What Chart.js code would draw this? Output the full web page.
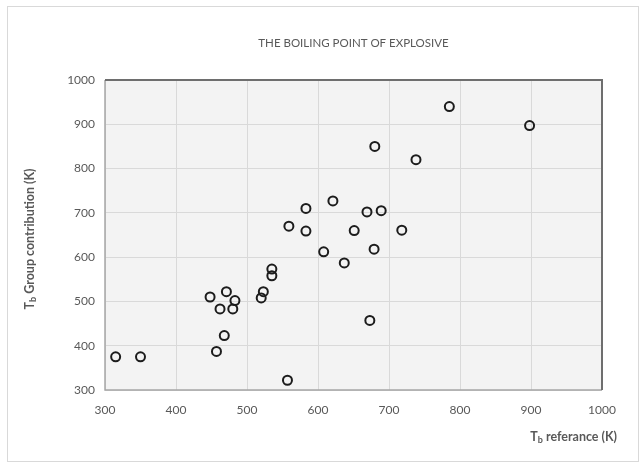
<!DOCTYPE html>
<html>
<head>
<meta charset="utf-8">
<script src="https://cdn.jsdelivr.net/npm/chart.js@4"></script>
<style>
  html, body { margin: 0; padding: 0; background: #ffffff; }
  #wrap { position: relative; width: 642px; height: 467px; }
  #frame { position: absolute; left: 7px; top: 6px; width: 632px; height: 456px; border: 1px solid #d9d9d9; box-sizing: border-box; }
  canvas { position: absolute; left: 0; top: 0; }
</style>
</head>
<body>
<div id="wrap">
  <div id="frame"></div>
  <canvas id="c" width="642" height="467"></canvas>
</div>
<script>
// Reference boiling point vs. group-contribution estimate (K)
const tbReference = [315, 350, 448, 471, 483, 462, 480, 468, 457, 520, 523, 535, 535, 557, 559,
                     583, 583, 608, 621, 637, 651, 669, 689, 673, 679, 680, 718, 738, 785, 898];
const tbGroup     = [375, 375, 510, 522, 502, 483, 483, 423, 387, 508, 522, 573, 558, 322, 670,
                     710, 659, 612, 727, 587, 660, 702, 705, 457, 618, 850, 661, 820, 940, 897];
const axisTicks = [300, 400, 500, 600, 700, 800, 900, 1000];

const chartTitle = 'THE BOILING POINT OF EXPLOSIVE';
const xTitle = ['T', 'b', ' referance (K)'];
const yTitle = ['T', 'b', ' Group contribution (K)'];

const points = tbReference.map((x, i) => ({ x: x, y: tbGroup[i] }));

const FONT = 'Lato, "Open Sans", sans-serif';
const TEXT = '#595959';

// draw "T" + subscript "b" + rest, starting at x (left aligned)
function subText(ctx, parts, x, y, size) {
  ctx.font = 'bold ' + size + 'px ' + FONT;
  ctx.fillText(parts[0], x, y);
  let w = ctx.measureText(parts[0]).width;
  ctx.font = 'bold ' + Math.round(size * 0.7) + 'px ' + FONT;
  ctx.fillText(parts[1], x + w, y + size * 0.28);
  w += ctx.measureText(parts[1]).width;
  ctx.font = 'bold ' + size + 'px ' + FONT;
  ctx.fillText(parts[2], x + w, y);
}
function subWidth(ctx, parts, size) {
  ctx.font = 'bold ' + size + 'px ' + FONT;
  let w = ctx.measureText(parts[0]).width + ctx.measureText(parts[2]).width;
  ctx.font = 'bold ' + Math.round(size * 0.7) + 'px ' + FONT;
  return w + ctx.measureText(parts[1]).width;
}

const plotDecor = {
  id: 'plotDecor',
  beforeDraw(chart) {
    const { ctx, chartArea: a } = chart;
    ctx.save();
    ctx.fillStyle = '#f3f3f3';
    ctx.fillRect(a.left, a.top, a.right - a.left, a.bottom - a.top);
    ctx.restore();
  },
  afterDraw(chart) {
    const { ctx, chartArea: a } = chart;
    ctx.save();
    // frame of the plot area: lighter on left/bottom, darker on top/right
    ctx.strokeStyle = '#a6a6a6';
    ctx.lineWidth = 1.5;
    ctx.beginPath();
    ctx.moveTo(a.left, a.top); ctx.lineTo(a.left, a.bottom); ctx.lineTo(a.right, a.bottom);
    ctx.stroke();
    ctx.strokeStyle = '#6e6e6e';
    ctx.lineWidth = 2;
    ctx.beginPath();
    ctx.moveTo(a.left, a.top); ctx.lineTo(a.right, a.top); ctx.lineTo(a.right, a.bottom);
    ctx.stroke();

    // chart title
    ctx.fillStyle = TEXT;
    ctx.textBaseline = 'middle';
    ctx.textAlign = 'center';
    ctx.font = '11.5px ' + FONT;
    ctx.fillText(chartTitle, (a.left + a.right) / 2, 43);

    // x axis title, right aligned a little past the plot edge
    ctx.textAlign = 'left';
    const xs = 12.5;
    subText(ctx, xTitle, a.right + 15 - subWidth(ctx, xTitle, xs), 437, xs);

    // y axis title, rotated
    ctx.translate(30, (a.top + a.bottom) / 2 + 4);
    ctx.rotate(-Math.PI / 2);
    subText(ctx, yTitle, -subWidth(ctx, yTitle, xs) / 2, 0, xs);
    ctx.restore();
  }
};

new Chart(document.getElementById('c'), {
  type: 'scatter',
  data: {
    datasets: [{
      data: points,
      pointStyle: 'circle',
      pointRadius: 4.5,
      pointHoverRadius: 4.5,
      pointBorderWidth: 2,
      borderColor: '#1c1c1c',
      backgroundColor: 'rgba(0,0,0,0)'
    }]
  },
  options: {
    responsive: false,
    animation: false,
    events: [],
    layout: { padding: { left: 0, right: 40, top: 80, bottom: 0 } },
    plugins: { legend: { display: false }, title: { display: false }, tooltip: { enabled: false } },
    scales: {
      x: {
        type: 'linear',
        min: axisTicks[0], max: axisTicks[axisTicks.length - 1],
        afterBuildTicks(s) { s.ticks = axisTicks.map(v => ({ value: v })); },
        afterFit(s) { s.height = 77; },
        grid: { color: '#d9d9d9', lineWidth: 1, drawTicks: false },
        border: { display: false },
        ticks: { color: TEXT, font: { family: FONT, size: 12 }, padding: 13, maxRotation: 0,
                 callback: v => String(v) }
      },
      y: {
        type: 'linear',
        min: axisTicks[0], max: axisTicks[axisTicks.length - 1],
        afterBuildTicks(s) { s.ticks = axisTicks.map(v => ({ value: v })); },
        afterFit(s) { s.width = 105; },
        grid: { color: '#d9d9d9', lineWidth: 1, drawTicks: false },
        border: { display: false },
        ticks: { color: TEXT, font: { family: FONT, size: 12 }, padding: 10,
                 callback: v => String(v) }
      }
    }
  },
  plugins: [plotDecor]
});
</script>
</body>
</html>
